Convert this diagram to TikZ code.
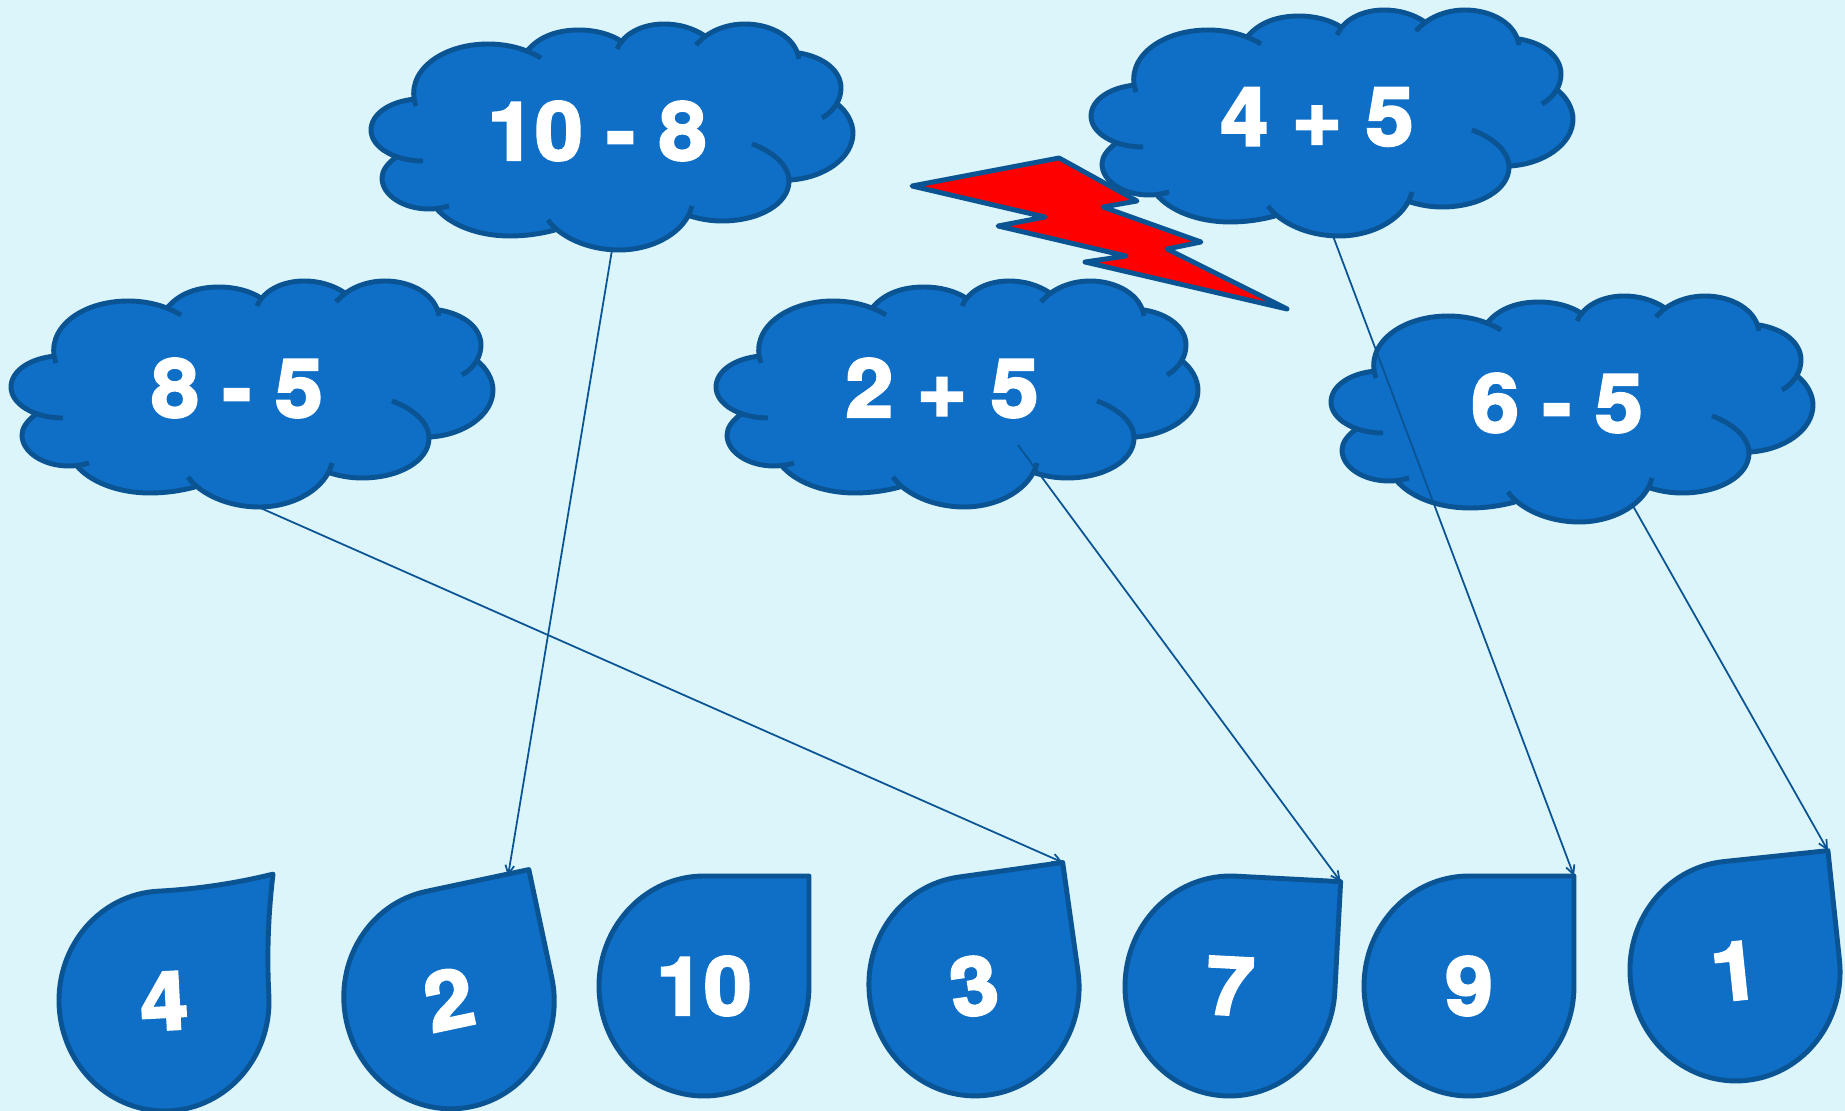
\documentclass[tikz,border=0pt]{standalone}
\usepackage{fontspec}
\usetikzlibrary{arrows.meta}
\newfontfamily\numfont[UprightFont=* Bold,FakeBold=3.2,FakeStretch=1.06]{TeX Gyre Heros}
\definecolor{pagebg}{HTML}{DCF5FA}
\definecolor{shapefill}{HTML}{0F6EC6}
\definecolor{shapeline}{HTML}{0A5494}
\newcommand{\cloudlobes}[1]{(-196,-27) .. controls (-208,-60) and (-172,-89) .. (-124,-89) .. controls (-104,-89) and (-86,-84) .. (-71,-75)
#1 (-84,-83) .. controls (-72,-97) and (-54,-103) .. (-33,-103) .. controls (-17,-103) and (-2,-99) .. (9,-92)
#1 (5,-84) .. controls (12,-100) and (31,-109) .. (52,-109) .. controls (67,-109) and (81,-105) .. (93,-97)
#1 (84,-88) .. controls (95,-101) and (113,-109) .. (133,-109) .. controls (160,-109) and (184,-95) .. (187,-74)
#1 (187,-80) .. controls (212,-76) and (229,-62) .. (229,-45) .. controls (229,-33) and (222,-22) .. (210,-15)
#1 (224,-30) .. controls (235,-22) and (241,-10) .. (241,0) .. controls (241,25) and (212,45) .. (178,47)
#1 (140,11) .. controls (162,19) and (177,33) .. (177,48) .. controls (177,71) and (147,88) .. (110,88) .. controls (98,88) and (88,86) .. (78,83)
#1 (80,73) .. controls (74,98) and (43,117) .. (7,117) .. controls (-24,117) and (-52,104) .. (-64,87)
#1 (-57,97) .. controls (-72,101) and (-87,103) .. (-102,103) .. controls (-134,103) and (-162,92) .. (-176,75)
#1 (-163,73) .. controls (-170,75) and (-176,76) .. (-183,76) .. controls (-209,76) and (-230,62) .. (-230,45) .. controls (-230,38) and (-225,31) .. (-217,25)
#1 (-189,28) .. controls (-218,28) and (-241,14) .. (-241,-3) .. controls (-241,-19) and (-222,-32) .. (-196,-34)}
\begin{document}
\begin{tikzpicture}[x=0.02cm, y=-0.02cm]
\tikzset{numtext/.style={text=white, inner sep=0pt, font=\numfont\fontsize{46}{46}\selectfont},
  outline/.style={draw=shapeline, line width=2.8pt, line join=round},
  link/.style={-{Straight Barb[length=5pt, width=5pt]}, draw=shapeline, line width=1pt},
  pics/cloud/.style={code={
    \fill[shapefill] \cloudlobes{--} -- cycle;
    \draw[shapeline, line width=2.8pt] \cloudlobes{};
    \node[numtext] (-label) at (-15,-2) {#1};
  }},
  pics/droplet/.style n args={2}{code={
    \draw[outline, fill=shapefill] (0,-110) .. controls ({35*#2},-110) and ({70*#2},{-110*#2+73.3*(#2-1)}) .. ({105*#2},{-110*#2})
      .. controls ({35*#2+70},{-73.3*#2}) and (105,{-36.7*#2}) .. (105,0) arc[start angle=0, end angle=270, x radius=105, y radius=110] -- cycle;
    \coordinate (-tip) at ({105*#2},{-110*#2});
    \node[numtext, transform shape] (-label) at (0,0) {#1};
  }}}
\clip (0,0) rectangle (1845,1111);
\fill[pagebg] (0,0) rectangle (1845,1111);
\pic (C1) at (612,133) {cloud={10 - 8}};
\pic (C2) at (252,390) {cloud={8 - 5}};
\pic (C3) at (1332,119) {cloud={4 + 5}};
\pic (C4) at (957,390) {cloud={2 + 5}};
\pic (C5) at (1572,405) {cloud={6 - 5}};
\draw[outline, fill=red] (912,186) -- (1059,158) -- (1137,201) -- (1103,207) -- (1201,242) -- (1167,249)
  -- (1287,309) -- (1085,262) -- (1126,256) -- (998,226) -- (1045,217) -- cycle;
\pic[rotate=3] (D1) at (164,1001) {droplet={4}{1.1}};
\pic[rotate=12] (D2) at (449,999) {droplet={2}{1}};
\pic (D3) at (704,986) {droplet={10}{1}};
\pic[rotate=8] (D4) at (974,986) {droplet={3}{1}};
\pic[rotate=-3] (D5) at (1230,986) {droplet={7}{1}};
\pic (D6) at (1469,986) {droplet={9}{1}};
\pic[rotate=6] (D7) at (1735,971) {droplet={1}{1}};
\coordinate (S1) at (612,250);
\coordinate (S2) at (256,506);
\coordinate (S3) at (1333,236);
\coordinate (S4) at (1018,445);
\coordinate (S5) at (1633,506);
\coordinate (E2) at (508,876);
\draw[link] (S1) -- (E2);
\draw[link] (S2) -- (D4-tip);
\draw[link] (S4) -- (D5-tip);
\draw[link] (S3) -- (D6-tip);
\draw[link] (S5) -- (D7-tip);
\end{tikzpicture}
\end{document}
